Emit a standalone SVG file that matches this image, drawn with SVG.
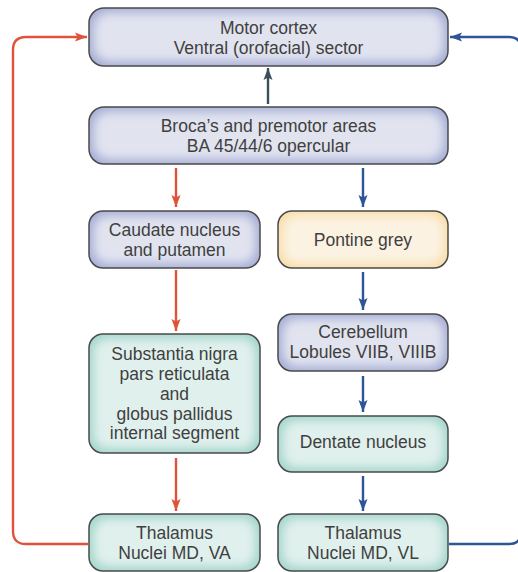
<svg xmlns="http://www.w3.org/2000/svg" width="518" height="572" viewBox="0 0 518 572">
<style>
.t{font-family:"Liberation Sans",Arial,sans-serif;font-size:17.5px;fill:#3f3f3f;text-anchor:middle}
.bx{stroke:#4a4a4a;stroke-width:1.5;fill:none}
.blue{fill:#a6aed6;filter:url(#glow)}
.teal{fill:#a3d7cd;filter:url(#glow)}
.yel{fill:#f8deaa;filter:url(#glow)}
.cr{fill:none;stroke:#e0533a;stroke-width:2.4}
.cb{fill:none;stroke:#2e5597;stroke-width:2.4}
.cd{fill:none;stroke:#3b4f5a;stroke-width:2.4}
</style>
<defs>
<filter id="glow" x="0" y="0" width="1" height="1">
<feMorphology in="SourceAlpha" operator="erode" radius="5" result="e"/>
<feGaussianBlur in="e" stdDeviation="5" result="b"/>
<feFlood flood-color="#ffffff" flood-opacity="0.6"/>
<feComposite in2="b" operator="in" result="w"/>
<feMerge result="m"><feMergeNode in="SourceGraphic"/><feMergeNode in="w"/></feMerge>
<feComposite in="m" in2="SourceAlpha" operator="in"/>
</filter>
<marker id="ar" markerUnits="userSpaceOnUse" markerWidth="12" markerHeight="10" refX="12" refY="5" orient="auto"><path d="M0,0.5 L12,5 L0,9.5 L2.5,5 z" fill="#e0533a"/></marker>
<marker id="ab" markerUnits="userSpaceOnUse" markerWidth="12" markerHeight="10" refX="12" refY="5" orient="auto"><path d="M0,0.5 L12,5 L0,9.5 L2.5,5 z" fill="#2e5597"/></marker>
<marker id="ad" markerUnits="userSpaceOnUse" markerWidth="12" markerHeight="10" refX="12" refY="5" orient="auto"><path d="M0,0.5 L12,5 L0,9.5 L2.5,5 z" fill="#3b4f5a"/></marker>
</defs>
<g id="connectors">
<path class="cd" d="M268 104 V68" marker-end="url(#ad)"/>
<path class="cr" d="M176 168 V207" marker-end="url(#ar)"/>
<path class="cb" d="M363 168 V207" marker-end="url(#ab)"/>
<path class="cr" d="M176 270 V331" marker-end="url(#ar)"/>
<path class="cb" d="M363 272 V310" marker-end="url(#ab)"/>
<path class="cb" d="M363 376 V412" marker-end="url(#ab)"/>
<path class="cr" d="M176 458 V511" marker-end="url(#ar)"/>
<path class="cb" d="M363 476 V511" marker-end="url(#ab)"/>
<path class="cr" d="M88 544 H26 Q13 544 13 531 V50 Q13 37 26 37 H87" marker-end="url(#ar)"/>
<path class="cb" d="M449 544 H509 Q521 544 521 532 V49 Q521 37 509 37 H450" marker-end="url(#ab)"/>
</g>
<g id="motor">
<rect class="blue" x="89" y="8" width="359" height="58" rx="15"/>
<rect class="bx" x="89" y="8" width="359" height="58" rx="15"/>
<text class="t" x="268.5" y="34">Motor cortex</text>
<text class="t" x="268.5" y="54">Ventral (orofacial) sector</text>
</g>
<g id="broca">
<rect class="blue" x="89" y="107" width="359" height="57" rx="15"/>
<rect class="bx" x="89" y="107" width="359" height="57" rx="15"/>
<text class="t" x="268.5" y="132">Broca’s and premotor areas</text>
<text class="t" x="268.5" y="152">BA 45/44/6 opercular</text>
</g>
<g id="caudate">
<rect class="blue" x="89" y="211" width="171" height="57" rx="14"/>
<rect class="bx" x="89" y="211" width="171" height="57" rx="14"/>
<text class="t" x="174.5" y="236">Caudate nucleus</text>
<text class="t" x="174.5" y="256">and putamen</text>
</g>
<g id="pontine">
<rect class="yel" x="278" y="211" width="170" height="57" rx="14"/>
<rect class="bx" x="278" y="211" width="170" height="57" rx="14"/>
<text class="t" x="363" y="246">Pontine grey</text>
</g>
<g id="substantia">
<rect class="teal" x="89" y="334" width="171" height="119" rx="14"/>
<rect class="bx" x="89" y="334" width="171" height="119" rx="14"/>
<text class="t" x="174.5" y="360">Substantia nigra</text>
<text class="t" x="174.5" y="380">pars reticulata</text>
<text class="t" x="174.5" y="400">and</text>
<text class="t" x="174.5" y="420">globus pallidus</text>
<text class="t" x="174.5" y="439">internal segment</text>
</g>
<g id="cerebellum">
<rect class="blue" x="278" y="314" width="170" height="57" rx="14"/>
<rect class="bx" x="278" y="314" width="170" height="57" rx="14"/>
<text class="t" x="363" y="338">Cerebellum</text>
<text class="t" x="363" y="358">Lobules VIIB, VIIIB</text>
</g>
<g id="dentate">
<rect class="teal" x="278" y="416" width="170" height="56" rx="14"/>
<rect class="bx" x="278" y="416" width="170" height="56" rx="14"/>
<text class="t" x="363" y="448">Dentate nucleus</text>
</g>
<g id="thalamus-va">
<rect class="teal" x="89" y="514" width="171" height="57" rx="14"/>
<rect class="bx" x="89" y="514" width="171" height="57" rx="14"/>
<text class="t" x="174.5" y="539">Thalamus</text>
<text class="t" x="174.5" y="559">Nuclei MD, VA</text>
</g>
<g id="thalamus-vl">
<rect class="teal" x="278" y="514" width="170" height="57" rx="14"/>
<rect class="bx" x="278" y="514" width="170" height="57" rx="14"/>
<text class="t" x="363" y="539">Thalamus</text>
<text class="t" x="363" y="559">Nuclei MD, VL</text>
</g>
</svg>
